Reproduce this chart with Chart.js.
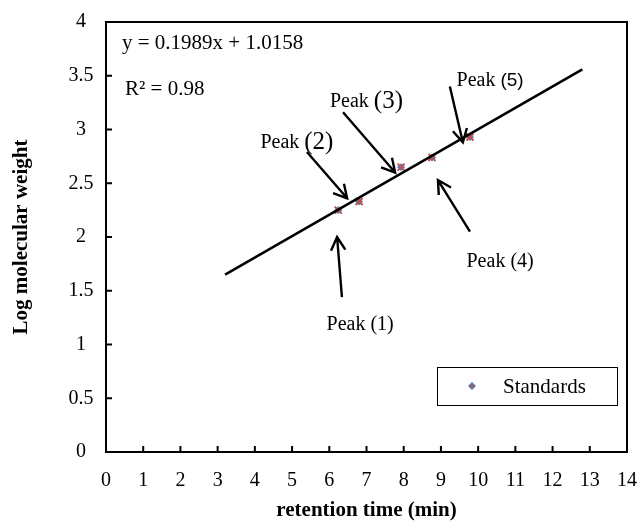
<!DOCTYPE html>
<html>
<head>
<meta charset="utf-8">
<script src="https://cdn.jsdelivr.net/npm/chart.js@4"></script>
<style>
  html, body { margin: 0; padding: 0; background: #fff; }
  #wrap { width: 639px; height: 525px; }
</style>
</head>
<body>
<div id="wrap"><canvas id="myChart" width="639" height="525"></canvas></div>
<script>
// standards
var retTime = [6.24, 6.8, 7.93, 8.76, 9.78];
var logMw = [2.25, 2.33, 2.65, 2.74, 2.93];

// linear trend line ends
var trendX = [3.2, 12.8];
var trendY = [1.65, 3.56];

var xTicks = [0, 1, 2, 3, 4, 5, 6, 7, 8, 9, 10, 11, 12, 13, 14];
var yTicks = [0, 0.5, 1, 1.5, 2, 2.5, 3, 3.5, 4];

var eqText = 'y = 0.1989x + 1.0158';
var r2Text = 'R\u00B2 = 0.98';

// peak labels: text pos, arrow tail, arrow head (data units)
var peaks = [
  {a: 'Peak ', b: '(1)', big: false, tx: 6.83, ty: 1.18, x1: 6.34, y1: 1.44, x2: 6.21, y2: 2.0},
  {a: 'Peak ', b: '(2)', big: true, tx: 5.13, ty: 2.88, x1: 5.40, y1: 2.79, x2: 6.48, y2: 2.36},
  {a: 'Peak ', b: '(3)', big: true, tx: 7.0, ty: 3.26, x1: 6.37, y1: 3.16, x2: 7.77, y2: 2.60},
  {a: 'Peak ', b: '(4)', big: false, tx: 10.59, ty: 1.77, x1: 9.78, y1: 2.05, x2: 8.92, y2: 2.53},
  {a: 'Peak ', b: '(5)', big: false, sans: true, tx: 10.32, ty: 3.45, x1: 9.24, y1: 3.40, x2: 9.59, y2: 2.88}
];

var serif = '"Liberation Serif", "Times New Roman", serif';

function pts(xs, ys) {
  var out = [];
  for (var i = 0; i < xs.length; i++) out.push({x: xs[i], y: ys[i]});
  return out;
}

function arrow(ctx, x1, y1, x2, y2) {
  var ang = Math.atan2(y2 - y1, x2 - x1);
  var L = 15, sp = 0.5;
  ctx.beginPath();
  ctx.moveTo(x1, y1);
  ctx.lineTo(x2, y2);
  ctx.moveTo(x2 - L * Math.cos(ang - sp), y2 - L * Math.sin(ang - sp));
  ctx.lineTo(x2, y2);
  ctx.lineTo(x2 - L * Math.cos(ang + sp), y2 - L * Math.sin(ang + sp));
  ctx.stroke();
}

var decor = {
  id: 'decor',
  afterDatasetsDraw: function(chart) {
    var ctx = chart.ctx, a = chart.chartArea;
    var xs = chart.scales.x, ys = chart.scales.y;
    ctx.save();
    // frame
    ctx.strokeStyle = '#000';
    ctx.lineWidth = 2;
    ctx.strokeRect(a.left, a.top, a.right - a.left, a.bottom - a.top);
    // inner tick marks
    ctx.beginPath();
    xTicks.forEach(function(v) {
      var px = xs.getPixelForValue(v);
      ctx.moveTo(px, a.bottom);
      ctx.lineTo(px, a.bottom - 6);
    });
    yTicks.forEach(function(v) {
      var py = ys.getPixelForValue(v);
      ctx.moveTo(a.left, py);
      ctx.lineTo(a.left + 6, py);
    });
    ctx.stroke();

    ctx.fillStyle = '#000';
    ctx.textBaseline = 'middle';
    ctx.textAlign = 'left';
    ctx.font = '21px ' + serif;
    ctx.fillText(eqText, xs.getPixelForValue(0.43), ys.getPixelForValue(3.80));
    ctx.fillText(r2Text, xs.getPixelForValue(0.51), ys.getPixelForValue(3.37));

    // peak labels and arrows
    ctx.lineWidth = 2.4;
    peaks.forEach(function(p) {
      var fa = '20px ' + serif;
      var fb = p.big ? '25px ' + serif : (p.sans ? '19px "Liberation Sans", Arial, sans-serif' : fa);
      ctx.font = fa;
      var wa = ctx.measureText(p.a).width;
      ctx.font = fb;
      var wb = ctx.measureText(p.b).width;
      var cx = xs.getPixelForValue(p.tx), cy = ys.getPixelForValue(p.ty);
      var sx = cx - (wa + wb) / 2;
      ctx.textAlign = 'left';
      ctx.font = fa;
      ctx.fillText(p.a, sx, cy);
      ctx.font = fb;
      ctx.fillText(p.b, sx + wa, cy);
      arrow(ctx, xs.getPixelForValue(p.x1), ys.getPixelForValue(p.y1),
        xs.getPixelForValue(p.x2), ys.getPixelForValue(p.y2));
    });

    // legend box
    var lx = a.right - 190, ly = a.bottom - 85, lw = 180, lh = 38;
    ctx.fillStyle = '#fff';
    ctx.fillRect(lx, ly, lw, lh);
    ctx.lineWidth = 1;
    ctx.strokeStyle = '#000';
    ctx.strokeRect(lx + 0.5, ly + 0.5, lw, lh);
    var mx = lx + 35, my = ly + 19;
    ctx.fillStyle = '#4a7ebb';
    ctx.beginPath();
    ctx.moveTo(mx, my - 4); ctx.lineTo(mx + 4, my); ctx.lineTo(mx, my + 4); ctx.lineTo(mx - 4, my);
    ctx.closePath();
    ctx.fill();
    ctx.fillStyle = '#c0504d';
    ctx.fillRect(mx - 1.5, my - 1.5, 3, 3);
    ctx.fillStyle = '#000';
    ctx.font = '21px ' + serif;
    ctx.fillText(chart.data.datasets[0].label, lx + 66, my + 1);
    ctx.restore();
  }
};

var ctx = document.getElementById('myChart').getContext('2d');
var myChart = new Chart(ctx, {
  type: 'scatter',
  data: {
    datasets: [{
      label: 'Standards',
      data: pts(retTime, logMw),
      pointStyle: 'rectRot',
      backgroundColor: '#4a7ebb',
      borderColor: '#4a7ebb',
      pointRadius: 3.5,
      order: 2
    }, {
      label: 'cross',
      data: pts(retTime, logMw),
      pointStyle: 'crossRot',
      borderColor: '#c0504d',
      borderWidth: 2,
      pointRadius: 5,
      order: 1
    }, {
      label: 'trend',
      type: 'line',
      data: pts(trendX, trendY),
      borderColor: '#000',
      borderWidth: 2.5,
      pointRadius: 0,
      fill: false,
      order: 0
    }]
  },
  options: {
    responsive: false,
    animation: false,
    layout: {padding: {top: 22, right: 12, left: 0, bottom: 0}},
    plugins: {legend: {display: false}, tooltip: {enabled: false}},
    scales: {
      x: {
        type: 'linear',
        min: 0, max: 14,
        afterFit: function(s) { s.height = 73; s.paddingRight = 0; s.paddingLeft = 0; },
        afterBuildTicks: function(s) { s.ticks = xTicks.map(function(v) { return {value: v}; }); },
        grid: {display: false, drawTicks: false},
        border: {display: false},
        ticks: {color: '#000', font: {family: serif, size: 20}, padding: 17, maxRotation: 0,
          callback: function(v) { return String(v); }},
        title: {display: true, text: 'retention time (min)', color: '#000',
          font: {family: serif, size: 21, weight: 'bold'}, padding: {top: 0, bottom: 2}}
      },
      y: {
        type: 'linear',
        min: 0, max: 4,
        afterFit: function(s) { s.width = 106; s.paddingTop = 0; s.paddingBottom = 0; },
        afterBuildTicks: function(s) { s.ticks = yTicks.map(function(v) { return {value: v}; }); },
        grid: {display: false, drawTicks: false},
        border: {display: false},
        ticks: {color: '#000', font: {family: serif, size: 20}, padding: 12.5, crossAlign: 'center',
          callback: function(v) { return String(v); }},
        title: {display: true, text: 'Log molecular weight', color: '#000',
          font: {family: serif, size: 21, weight: 'bold'}, padding: {top: 9, bottom: 0}}
      }
    }
  },
  plugins: [decor]
});
</script>
</body>
</html>
